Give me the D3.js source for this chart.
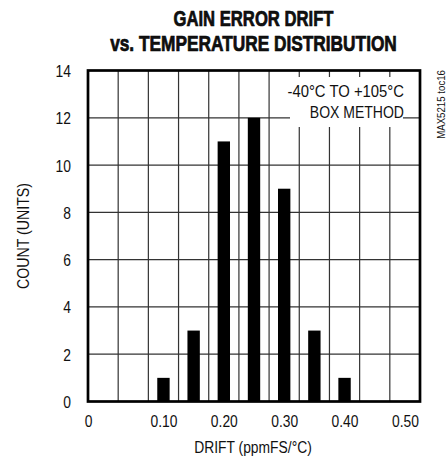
<!DOCTYPE html>
<html>
<head>
<meta charset="utf-8">
<script src="https://cdn.jsdelivr.net/npm/d3@7/dist/d3.min.js"></script>
<style>
  html, body { margin: 0; padding: 0; background: #fff; }
  svg { display: block; }
  text { font-family: "Liberation Sans", Arial, sans-serif; fill: #111; }
</style>
</head>
<body>
<svg id="chart" width="446" height="460"></svg>
<script>
// ---- data ----
const binCenters = [0.10, 0.15, 0.20, 0.25, 0.30, 0.35, 0.40];
const counts = [1, 3, 11, 12, 9, 3, 1];
const xTickValues = [-0.025, 0.10, 0.20, 0.30, 0.40, 0.50];
const xTickLabels = ["0", "0.10", "0.20", "0.30", "0.40", "0.50"];
const xGridValues = [0.025, 0.075, 0.125, 0.175, 0.225, 0.275, 0.325, 0.375, 0.425, 0.475];
const yTickValues = [0, 2, 4, 6, 8, 10, 12, 14];
const titleLines = ["GAIN ERROR DRIFT", "vs. TEMPERATURE DISTRIBUTION"];
const noteLines = ["-40°C TO +105°C", "BOX METHOD"];
const xTitle = "DRIFT (ppmFS/°C)";
const yTitle = "COUNT (UNITS)";
const sideNote = "MAX5215 toc16";

// ---- layout ----
const L = 88, R = 420, T = 70.5, B = 401.5;
const CF = 0.84; // condensing factor
const svg = d3.select("#chart");

const x = d3.scaleLinear().domain([-0.025, 0.525]).range([L, R]);
const y = d3.scaleLinear().domain([0, 14]).range([B, T]);
const barW = x(0.0205) - x(0);

// place text at (px,py) with horizontal condensing
function placed(sel, px, py, f, extra) {
  sel.attr("x", 0).attr("y", 0)
    .attr("transform", (d, i) => {
      const X = typeof px === "function" ? px(d, i) : px;
      const Y = typeof py === "function" ? py(d, i) : py;
      const F = typeof f === "function" ? f(d, i) : f;
      return `translate(${X},${Y})${extra || ""} scale(${F},1)`;
    });
  return sel;
}

// gridlines
const grid = svg.append("g").attr("stroke", "#333").attr("stroke-width", 1.2);
grid.selectAll("line.v").data(xGridValues).join("line")
  .attr("x1", d => x(d)).attr("x2", d => x(d)).attr("y1", T).attr("y2", B);
grid.selectAll("line.h").data(yTickValues.slice(1, -1)).join("line")
  .attr("x1", L).attr("x2", R).attr("y1", d => y(d)).attr("y2", d => y(d));

// note box (white background)
svg.append("rect").attr("x", 290).attr("y", 77).attr("width", 113).attr("height", 50).attr("fill", "#fff");
const noteF = [0.9, 0.85];
placed(svg.append("g").selectAll("text").data(noteLines).join("text")
  .attr("text-anchor", "end").attr("font-size", 16.5).text(d => d),
  404, (d, i) => 97 + i * 21, (d, i) => noteF[i]);

// bars
svg.append("g").selectAll("rect").data(binCenters).join("rect")
  .attr("x", (d) => x(d) - barW / 2)
  .attr("width", barW)
  .attr("y", (d, i) => y(counts[i]))
  .attr("height", (d, i) => y(0) - y(counts[i]))
  .attr("fill", "#000");

// frame
svg.append("rect").attr("x", L).attr("y", T).attr("width", R - L).attr("height", B - T)
  .attr("fill", "none").attr("stroke", "#000").attr("stroke-width", 2.7);

// axes (labels only)
const xAxis = d3.axisBottom(x).tickValues(xTickValues)
  .tickFormat((d, i) => xTickLabels[i]).tickSize(0).tickPadding(0);
const gx = svg.append("g").attr("transform", `translate(0,${B})`).call(xAxis);
gx.select(".domain").remove();
gx.selectAll("text").attr("font-size", 16.5).attr("dy", null).attr("y", 26)
  .attr("transform", `scale(${CF},1)`)
  .style("font-family", '"Liberation Sans", Arial, sans-serif').attr("fill", "#111");

const yAxis = d3.axisLeft(y).tickValues(yTickValues).tickSize(0).tickPadding(0)
  .tickFormat(d3.format("d"));
const gy = svg.append("g").attr("transform", `translate(71,0)`).call(yAxis);
gy.select(".domain").remove();
gy.selectAll("text").attr("font-size", 16.5).attr("dy", "0.36em").attr("x", 0)
  .attr("transform", `scale(${CF},1)`)
  .style("font-family", '"Liberation Sans", Arial, sans-serif').attr("fill", "#111");

// titles (bold, condensed to the reference widths)
const titleW = [160, 287];
const tt = svg.append("g").selectAll("text").data(titleLines).join("text")
  .attr("text-anchor", "middle").attr("font-size", 22.5).attr("font-weight", "bold")
  .attr("fill", "#000").attr("stroke", "#000").attr("stroke-width", 0.7)
  .text(d => d);
tt.each(function (d, i) {
  const w = this.getComputedTextLength();
  d3.select(this).attr("x", 0).attr("y", 0)
    .attr("transform", `translate(253.5,${26 + i * 25}) scale(${titleW[i] / w},1)`);
});

placed(svg.append("text").attr("text-anchor", "middle").attr("font-size", 16.5).text(xTitle),
  253, 453, CF);

placed(svg.append("text").attr("text-anchor", "middle").attr("font-size", 16.5).text(yTitle),
  28.5, (T + B) / 2, 0.86, " rotate(-90)");

placed(svg.append("text").attr("text-anchor", "end").attr("font-size", 11).attr("fill", "#333").text(sideNote),
  444.5, 70, 0.88, " rotate(-90)");
</script>
</body>
</html>
